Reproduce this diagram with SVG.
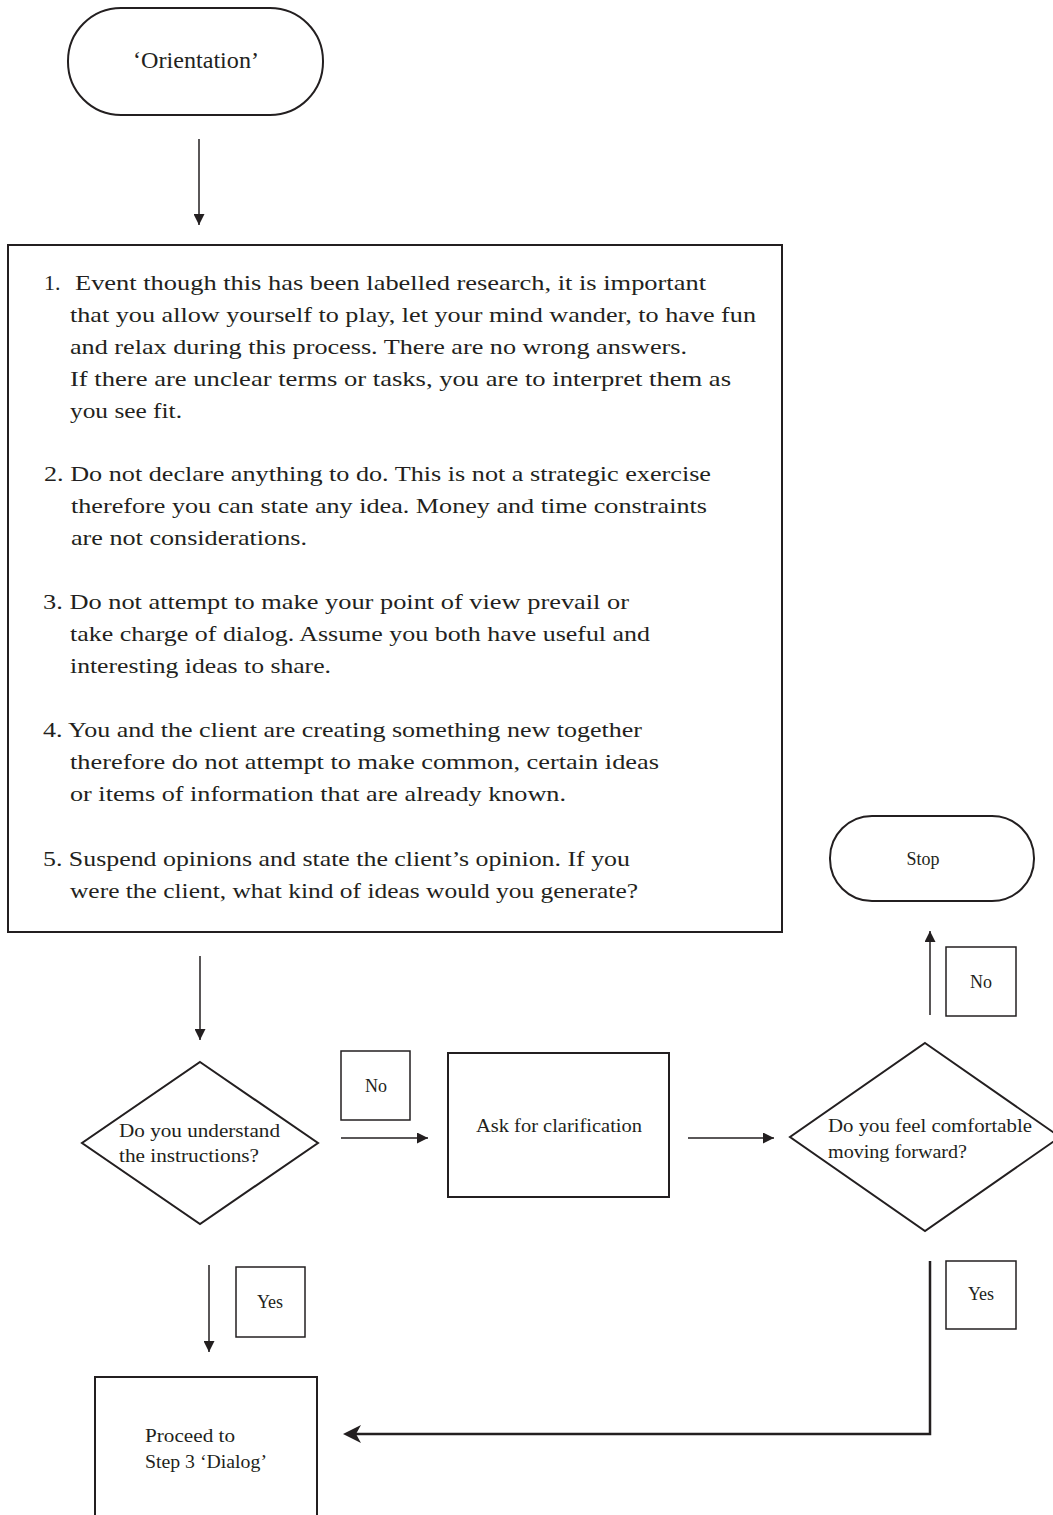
<svg xmlns="http://www.w3.org/2000/svg" width="1053" height="1515" viewBox="0 0 1053 1515">
<style>
.shape{fill:#fff;stroke:#231f20;stroke-width:2}
.lbl{fill:#fff;stroke:#231f20;stroke-width:1.5}
.conn{fill:none;stroke:#231f20;stroke-width:1.5}
.thick{fill:none;stroke:#231f20;stroke-width:2.5}
text{font-family:"Liberation Serif","Times New Roman",serif;fill:#231f20}
.big{font-size:22px}
.mid{font-size:18px}
.ctr{text-anchor:middle}
</style>
<defs>
<marker id="ah" viewBox="0 0 10 10" refX="10" refY="5" markerWidth="11" markerHeight="11" markerUnits="userSpaceOnUse" orient="auto">
<path d="M0,0 L10,5 L0,10 z" fill="#231f20"/>
</marker>
</defs>
<rect width="1053" height="1515" fill="#fff"/>

<g id="connectors">
<line class="conn" x1="199" y1="139" x2="199" y2="225" marker-end="url(#ah)"/>
<line class="conn" x1="200" y1="956" x2="200" y2="1040" marker-end="url(#ah)"/>
<line class="conn" x1="341" y1="1138" x2="428" y2="1138" marker-end="url(#ah)"/>
<line class="conn" x1="688" y1="1138" x2="774" y2="1138" marker-end="url(#ah)"/>
<line class="conn" x1="930" y1="1015" x2="930" y2="931" marker-end="url(#ah)"/>
<line class="conn" x1="209" y1="1265" x2="209" y2="1352" marker-end="url(#ah)"/>
<path class="thick" d="M930,1261 L930,1434 L356,1434"/>
<path d="M343,1434 L361,1425 L356,1434 L361,1443 Z" fill="#231f20"/>
</g>

<g id="orientation">
<rect class="shape" x="68" y="8" width="255" height="107" rx="53" ry="53"/>
<text class="ctr" x="196" y="68" font-size="23" textLength="126" lengthAdjust="spacingAndGlyphs">‘Orientation’</text>
</g>

<g id="instructions">
<rect class="shape" x="8" y="245" width="774" height="687"/>
<text class="big" x="44" y="290">1.</text>
<text class="big" x="75" y="290" textLength="631" lengthAdjust="spacingAndGlyphs">Event though this has been labelled research, it is important</text>
<text class="big" x="70" y="322" textLength="686" lengthAdjust="spacingAndGlyphs">that you allow yourself to play, let your mind wander, to have fun</text>
<text class="big" x="70" y="354" textLength="617" lengthAdjust="spacingAndGlyphs">and relax during this process. There are no wrong answers.</text>
<text class="big" x="70" y="386" textLength="661" lengthAdjust="spacingAndGlyphs">If there are unclear terms or tasks, you are to interpret them as</text>
<text class="big" x="70" y="418" textLength="112" lengthAdjust="spacingAndGlyphs">you see fit.</text>
<text class="big" x="44" y="481" textLength="667" lengthAdjust="spacingAndGlyphs">2. Do not declare anything to do. This is not a strategic exercise</text>
<text class="big" x="71" y="513" textLength="636" lengthAdjust="spacingAndGlyphs">therefore you can state any idea. Money and time constraints</text>
<text class="big" x="71" y="545" textLength="236" lengthAdjust="spacingAndGlyphs">are not considerations.</text>
<text class="big" x="43" y="609" textLength="586" lengthAdjust="spacingAndGlyphs">3. Do not attempt to make your point of view prevail or</text>
<text class="big" x="70" y="641" textLength="580" lengthAdjust="spacingAndGlyphs">take charge of dialog. Assume you both have useful and</text>
<text class="big" x="70" y="673" textLength="261" lengthAdjust="spacingAndGlyphs">interesting ideas to share.</text>
<text class="big" x="43" y="737" textLength="599" lengthAdjust="spacingAndGlyphs">4. You and the client are creating something new together</text>
<text class="big" x="70" y="769" textLength="589" lengthAdjust="spacingAndGlyphs">therefore do not attempt to make common, certain ideas</text>
<text class="big" x="70" y="801" textLength="496" lengthAdjust="spacingAndGlyphs">or items of information that are already known.</text>
<text class="big" x="43" y="866" textLength="587" lengthAdjust="spacingAndGlyphs">5. Suspend opinions and state the client’s opinion. If you</text>
<text class="big" x="70" y="898" textLength="568" lengthAdjust="spacingAndGlyphs">were the client, what kind of ideas would you generate?</text>
</g>

<g id="understand">
<polygon class="shape" points="200,1062 318,1143 200,1224 82,1143"/>
<text class="mid" x="119" y="1137" textLength="161" lengthAdjust="spacingAndGlyphs">Do you understand</text>
<text class="mid" x="119" y="1162" textLength="140" lengthAdjust="spacingAndGlyphs">the instructions?</text>
</g>

<g id="label-no-1">
<rect class="lbl" x="341" y="1051" width="69" height="69"/>
<text class="mid ctr" x="376" y="1092">No</text>
</g>

<g id="clarification">
<rect class="shape" x="448" y="1053" width="221" height="144"/>
<text class="mid ctr" x="559" y="1132" textLength="166" lengthAdjust="spacingAndGlyphs">Ask for clarification</text>
</g>

<g id="comfortable">
<polygon class="shape" points="925,1043 1060,1137 925,1231 790,1137"/>
<text class="mid" x="828" y="1132" textLength="204" lengthAdjust="spacingAndGlyphs">Do you feel comfortable</text>
<text class="mid" x="828" y="1158" textLength="139" lengthAdjust="spacingAndGlyphs">moving forward?</text>
</g>

<g id="label-no-2">
<rect class="lbl" x="946" y="947" width="70" height="69"/>
<text class="mid ctr" x="981" y="988">No</text>
</g>

<g id="stop">
<rect class="shape" x="830" y="816" width="204" height="85" rx="42" ry="42"/>
<text class="mid ctr" x="923" y="865">Stop</text>
</g>

<g id="label-yes-1">
<rect class="lbl" x="236" y="1267" width="69" height="70"/>
<text class="mid ctr" x="270" y="1308">Yes</text>
</g>

<g id="label-yes-2">
<rect class="lbl" x="946" y="1261" width="70" height="68"/>
<text class="mid ctr" x="981" y="1300">Yes</text>
</g>

<g id="proceed">
<rect class="shape" x="95" y="1377" width="222" height="160"/>
<text class="mid" x="145" y="1442" textLength="90" lengthAdjust="spacingAndGlyphs">Proceed to</text>
<text class="mid" x="145" y="1468" textLength="122" lengthAdjust="spacingAndGlyphs">Step 3 ‘Dialog’</text>
</g>
</svg>
